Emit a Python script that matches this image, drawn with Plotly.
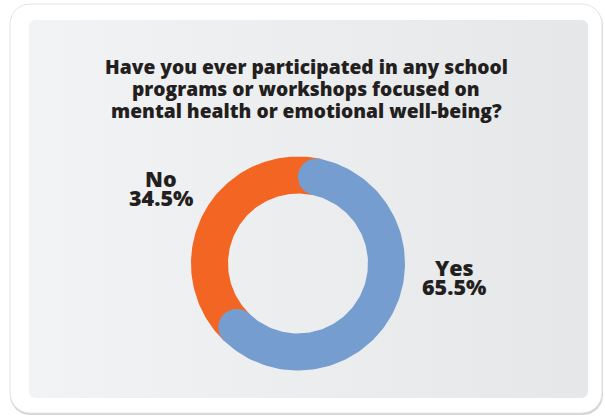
import numpy as np
import plotly.graph_objects as go

# Survey results
categories = ["Yes", "No"]
percentages = [65.5, 34.5]
colors = ["#769dcf", "#f26522"]
title_lines = [
    "Have you ever participated in any school",
    "programs or workshops focused on",
    "mental health or emotional well-being?",
]

W, H = 605, 417
CX, CY, R_PX = 298, 263.5, 107  # donut centre and outer radius, in pixels
R_OUT, R_IN = 1.0, 0.654
FONT = "Open Sans"
TEXT_COLOR = "#231f20"


def dx(px):
    return (px - CX) / R_PX


def dy(py):
    return (CY - py) / R_PX


def rounded_rect(x0, y0, x1, y1, r, n=12):
    """Rounded rectangle outline in pixel space, converted to data units."""
    pts = []
    corners = [
        (x1 - r, y0 + r, -90, 0),
        (x1 - r, y1 - r, 0, 90),
        (x0 + r, y1 - r, 90, 180),
        (x0 + r, y0 + r, 180, 270),
    ]
    for cx, cy, a0, a1 in corners:
        for a in np.linspace(np.radians(a0), np.radians(a1), n):
            pts.append((cx + r * np.cos(a), cy + r * np.sin(a)))
    pts.append(pts[0])
    xs = [dx(p[0]) for p in pts]
    ys = [dy(p[1]) for p in pts]
    return xs, ys


def polar(r, theta):
    # theta in radians, clockwise from 12 o'clock
    return r * np.sin(theta), r * np.cos(theta)


def band(t0, t1, n=120):
    """Plain annulus sector between angles t0 and t1."""
    th = np.linspace(t0, t1, n)
    ox, oy = polar(R_OUT, th)
    ix, iy = polar(R_IN, th[::-1])
    return np.r_[ox, ix, ox[:1]], np.r_[oy, iy, oy[:1]]


def rounded_band(t0, t1, n=120):
    """Annulus sector with round caps that stay inside [t0, t1]."""
    mid = (R_OUT + R_IN) / 2
    rc = (R_OUT - R_IN) / 2
    d = rc / mid
    a, b = t0 + d, t1 - d
    th = np.linspace(a, b, n)
    xs, ys = list(polar(R_OUT, th)[0]), list(polar(R_OUT, th)[1])
    # end cap
    ux, uy = np.sin(b), np.cos(b)
    tx, ty = np.cos(b), -np.sin(b)
    cx, cy = mid * ux, mid * uy
    for p in np.linspace(0, np.pi, 30):
        xs.append(cx + rc * (np.cos(p) * ux + np.sin(p) * tx))
        ys.append(cy + rc * (np.cos(p) * uy + np.sin(p) * ty))
    ix, iy = polar(R_IN, th[::-1])
    xs += list(ix)
    ys += list(iy)
    # start cap
    ux, uy = np.sin(a), np.cos(a)
    tx, ty = np.cos(a), -np.sin(a)
    cx, cy = mid * ux, mid * uy
    for p in np.linspace(np.pi, 0, 30):
        xs.append(cx + rc * (np.cos(p) * ux - np.sin(p) * tx))
        ys.append(cy + rc * (np.cos(p) * uy - np.sin(p) * ty))
    xs.append(xs[0])
    ys.append(ys[0])
    return xs, ys


def text(fig, px, py, s, size):
    fig.add_annotation(x=dx(px), y=dy(py), text=s, showarrow=False,
                       xanchor="center", yanchor="middle", align="center",
                       font=dict(family=FONT, size=size, color=TEXT_COLOR,
                                 weight=800))


fig = go.Figure()

# Card shadow, white card and grey gradient panel
sx, sy = rounded_rect(10, 5.5, 603, 415, 20)
fig.add_trace(go.Scatter(x=sx, y=sy, fill="toself", fillcolor="#d4d4d4",
                         line=dict(width=0), mode="lines", hoverinfo="skip"))
cx_, cy_ = rounded_rect(10, 4, 602, 413, 20)
fig.add_trace(go.Scatter(x=cx_, y=cy_, fill="toself", fillcolor="#ffffff",
                         line=dict(width=1, color="#e4e4e4"), mode="lines",
                         hoverinfo="skip"))
px_, py_ = rounded_rect(29, 20, 588, 398, 6)
fig.add_trace(go.Scatter(
    x=px_, y=py_, fill="toself", mode="lines", line=dict(width=0),
    fillgradient=dict(type="horizontal",
                      colorscale=[[0, "#f2f3f4"], [1, "#e6e7e8"]]),
    hoverinfo="skip"))

# Donut slices: angles come from the percentages
total = sum(percentages)
start = 0.0
angles = []
for v in percentages:
    span = 2 * np.pi * v / total
    angles.append((start, start + span))
    start += span

mid = (R_OUT + R_IN) / 2
cap = ((R_OUT - R_IN) / 2) / mid
# second slice sits underneath, tucked below the first slice's caps
t0, t1 = angles[1]
bx, by = band(t0 - cap, t1 + cap)
fig.add_trace(go.Scatter(x=bx, y=by, fill="toself", fillcolor=colors[1],
                         line=dict(width=0), mode="lines", name=categories[1]))
t0, t1 = angles[0]
bx, by = rounded_band(t0, t1)
fig.add_trace(go.Scatter(x=bx, y=by, fill="toself", fillcolor=colors[0],
                         line=dict(width=0), mode="lines", name=categories[0]))

# Slice labels (name above, percentage below)
label_pos = {"Yes": (454, 267), "No": (161, 178)}
for cat, v in zip(categories, percentages):
    lx, ly = label_pos[cat]
    text(fig, lx, ly, cat, 21.5)
    text(fig, lx, ly + 19.5, f"{v}%", 21.5)

# Title, one annotation per line for tight line spacing
for i, line in enumerate(title_lines):
    text(fig, 306, 66 + 22 * i, line, 19.2)

fig.update_layout(
    width=W, height=H,
    margin=dict(l=0, r=0, t=0, b=0),
    paper_bgcolor="#ffffff", plot_bgcolor="rgba(0,0,0,0)",
    showlegend=False,
    xaxis=dict(range=[dx(0), dx(W)], visible=False, fixedrange=True),
    yaxis=dict(range=[dy(H), dy(0)], visible=False, fixedrange=True),
)

fig.write_html("out.html")
